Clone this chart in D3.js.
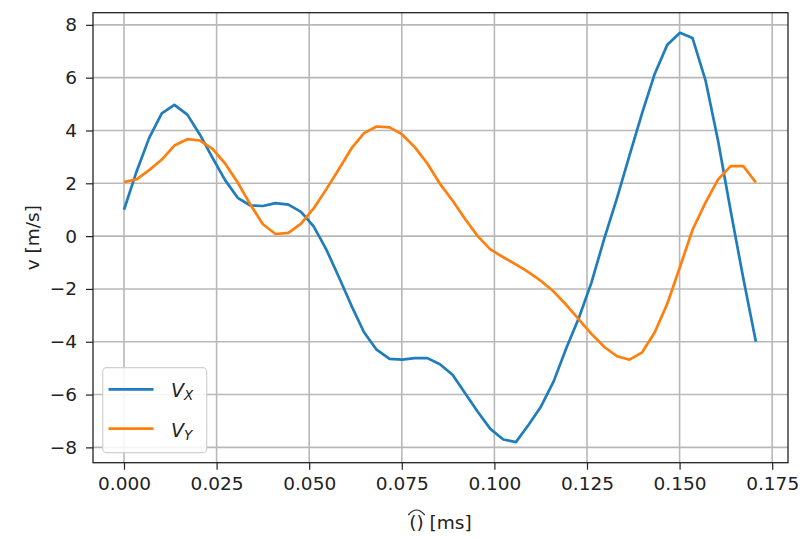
<!DOCTYPE html>
<html>
<head>
<meta charset="utf-8">
<script src="https://cdn.jsdelivr.net/npm/d3@7"></script>
<style>
  html, body { margin: 0; padding: 0; background: #fff; }
  svg { display: block; }
  text { font-family: "DejaVu Sans", sans-serif; fill: #222; }
</style>
</head>
<body>
<svg id="chart" width="802" height="540"></svg>
<script>
// Sample times (ms)
const time = [0.0000, 0.0034, 0.0068, 0.0102, 0.0136, 0.0171, 0.0205, 0.0239, 0.0273, 0.0307,
              0.0341, 0.0375, 0.0409, 0.0444, 0.0478, 0.0512, 0.0546, 0.0580, 0.0614, 0.0648,
              0.0682, 0.0717, 0.0751, 0.0785, 0.0819, 0.0853, 0.0887, 0.0921, 0.0955, 0.0989,
              0.1024, 0.1058, 0.1092, 0.1126, 0.1160, 0.1194, 0.1228, 0.1262, 0.1297, 0.1331,
              0.1365, 0.1399, 0.1433, 0.1467, 0.1501, 0.1535, 0.1570, 0.1604, 0.1638, 0.1672,
              0.1706];

// Velocity components (m/s)
const vx = [1.00, 2.45, 3.72, 4.65, 4.97, 4.60, 3.84, 2.96, 2.12, 1.45,
            1.16, 1.14, 1.25, 1.19, 0.92, 0.37, -0.50, -1.55, -2.63, -3.64,
            -4.30, -4.65, -4.68, -4.62, -4.62, -4.85, -5.25, -5.95, -6.65, -7.30,
            -7.70, -7.80, -7.15, -6.45, -5.50, -4.25, -3.10, -1.76, -0.08, 1.44,
            3.07, 4.67, 6.15, 7.25, 7.70, 7.50, 5.90, 3.60, 0.95, -1.60,
            -4.00];

const vy = [2.05, 2.15, 2.50, 2.90, 3.43, 3.67, 3.62, 3.30, 2.75, 2.03,
            1.20, 0.45, 0.08, 0.12, 0.47, 1.05, 1.77, 2.53, 3.32, 3.90,
            4.15, 4.12, 3.85, 3.37, 2.75, 1.98, 1.35, 0.65, 0.00, -0.50,
            -0.80, -1.07, -1.36, -1.70, -2.10, -2.60, -3.15, -3.70, -4.20, -4.55,
            -4.68, -4.40, -3.64, -2.55, -1.17, 0.24, 1.27, 2.15, 2.65, 2.65,
            2.03];

const xTicks = [0.000, 0.025, 0.050, 0.075, 0.100, 0.125, 0.150, 0.175];
const yTicks = [-8, -6, -4, -2, 0, 2, 4, 6, 8];

const seriesNames = ["X", "Y"];
const seriesColors = ["#1f7dbb", "#ff7f0e"];

const svg = d3.select("#chart");
const plot = { left: 93, right: 788, top: 12.7, bottom: 462.7 };

const x = d3.scaleLinear().domain([-0.00837, 0.17927]).range([plot.left, plot.right]);
const y = d3.scaleLinear().domain([-8.58, 8.46]).range([plot.bottom, plot.top]);

// grid
const grid = svg.append("g");
grid.selectAll("line.gx").data(xTicks).join("line")
  .attr("x1", d => x(d)).attr("x2", d => x(d))
  .attr("y1", plot.top).attr("y2", plot.bottom)
  .attr("stroke", "#b8b8b8").attr("stroke-width", 1.6);
grid.selectAll("line.gy").data(yTicks).join("line")
  .attr("y1", d => y(d)).attr("y2", d => y(d))
  .attr("x1", plot.left).attr("x2", plot.right)
  .attr("stroke", "#b8b8b8").attr("stroke-width", 1.6);

// series
const series = [vx, vy];
const line = d3.line().x((d, i) => x(time[i])).y(d => y(d));
svg.append("g").selectAll("path").data(series).join("path")
  .attr("d", d => line(d))
  .attr("fill", "none")
  .attr("stroke", (d, i) => seriesColors[i])
  .attr("stroke-width", 2.7)
  .attr("stroke-linejoin", "round");

// axes
const fmtX = d3.format(".3f");
const xAxis = svg.append("g")
  .attr("transform", `translate(0,${plot.bottom})`)
  .call(d3.axisBottom(x).tickValues(xTicks).tickFormat(fmtX).tickSize(7).tickPadding(7).tickSizeOuter(0));
const yAxis = svg.append("g")
  .attr("transform", `translate(${plot.left},0)`)
  .call(d3.axisLeft(y).tickValues(yTicks).tickFormat(d3.format("d")).tickSize(7).tickPadding(9).tickSizeOuter(0));
[xAxis, yAxis].forEach(a => {
  a.select(".domain").remove();
  a.selectAll(".tick line").attr("stroke", "#222").attr("stroke-width", 1.2);
  a.selectAll(".tick text").attr("font-size", 18.5).attr("fill", "#222")
    .attr("font-family", "DejaVu Sans, sans-serif");
});

// frame
svg.append("rect")
  .attr("x", plot.left).attr("y", plot.top)
  .attr("width", plot.right - plot.left).attr("height", plot.bottom - plot.top)
  .attr("fill", "none").attr("stroke", "#222").attr("stroke-width", 1.3);

// axis labels
svg.append("text")
  .attr("transform", `translate(39,${(plot.top + plot.bottom) / 2}) rotate(-90)`)
  .attr("text-anchor", "middle").attr("font-size", 18.5)
  .text("v [m/s]");

const xl = svg.append("g");
const xlText = xl.append("text")
  .attr("x", (plot.left + plot.right) / 2).attr("y", 529)
  .attr("text-anchor", "middle").attr("font-size", 18.5);
const hatPart = xlText.append("tspan").text("()");
xlText.append("tspan").text(" [ms]");
const hb = hatPart.node().getBBox();
xl.append("path")
  .attr("d", `M${hb.x - 1},${hb.y + 3} Q${hb.x + hb.width / 2},${hb.y - 7} ${hb.x + hb.width + 1},${hb.y + 3}`)
  .attr("fill", "none").attr("stroke", "#222").attr("stroke-width", 1.2);

// legend
const lg = svg.append("g");
lg.append("rect")
  .attr("x", 102.7).attr("y", 367.7).attr("width", 104).attr("height", 85)
  .attr("rx", 4).attr("fill", "#fff").attr("fill-opacity", 0.85)
  .attr("stroke", "#d0d0d0").attr("stroke-width", 1.2);
const rows = lg.selectAll("g.row").data(seriesNames).join("g")
  .attr("transform", (d, i) => `translate(0,${389.3 + i * 39.4})`);
rows.append("line")
  .attr("x1", 108.5).attr("x2", 153.5)
  .attr("stroke", (d, i) => seriesColors[i]).attr("stroke-width", 2.7);
const lt = rows.append("text").attr("x", 171).attr("y", 8).attr("font-size", 19)
  .attr("font-style", "italic");
lt.append("tspan").text("V");
lt.append("tspan").attr("dy", 3).attr("font-size", 13.5).text(d => d);
</script>
</body>
</html>
